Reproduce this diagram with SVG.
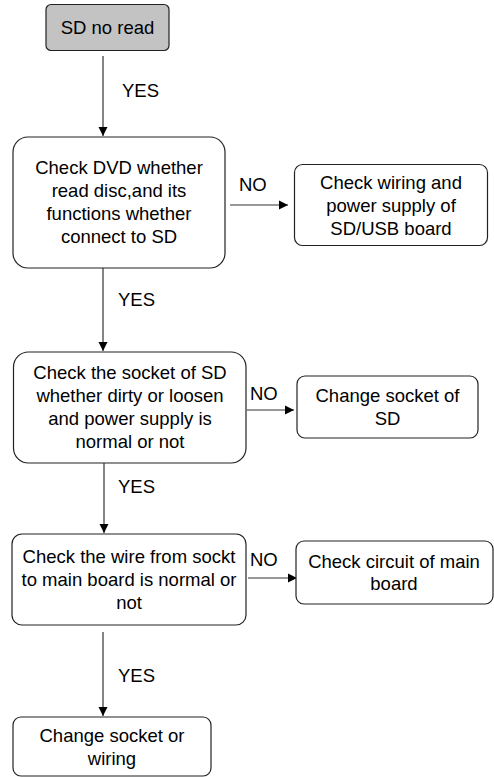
<svg xmlns="http://www.w3.org/2000/svg" width="494" height="778" viewBox="0 0 494 778">
<style>
.box{fill:#fff;stroke:#222;stroke-width:1.2}
.start{fill:#c3c3c3;stroke:#222;stroke-width:1.2}
text{font-family:"Liberation Sans",Arial,sans-serif;font-size:18.5px;fill:#000}
.c{text-anchor:middle}
.edge{stroke:#333;stroke-width:1.2;fill:none;marker-end:url(#ah)}
</style>
<defs>
<marker id="ah" markerWidth="10" markerHeight="10" refX="9" refY="5" orient="auto" markerUnits="userSpaceOnUse">
<path d="M0,0.5 L9,5 L0,9.5 Z" fill="#000"/>
</marker>
</defs>
<rect width="494" height="778" fill="#fff"/>
<g id="connectors">
<line class="edge" x1="103" y1="56" x2="103" y2="136"/>
<text x="122" y="97">YES</text>
<line class="edge" x1="230" y1="205" x2="288" y2="205"/>
<text x="239" y="191">NO</text>
<line class="edge" x1="103" y1="268" x2="103" y2="351"/>
<text x="118" y="306">YES</text>
<line class="edge" x1="247" y1="410" x2="294" y2="410"/>
<text x="250" y="400">NO</text>
<line class="edge" x1="104" y1="463" x2="104" y2="533"/>
<text x="118" y="493">YES</text>
<line class="edge" x1="248" y1="578" x2="297" y2="578"/>
<text x="250" y="566">NO</text>
<line class="edge" x1="103" y1="632" x2="103" y2="716"/>
<text x="118" y="682">YES</text>
</g>
<g id="n1">
<rect class="start" x="46" y="4.5" width="123" height="46" rx="5"/>
<text class="c" x="107.5" y="34">SD no read</text>
</g>
<g id="n2">
<rect class="box" x="13" y="137" width="212" height="131" rx="15"/>
<text class="c" x="119" y="174">Check DVD whether</text>
<text class="c" x="119" y="197">read disc,and its</text>
<text class="c" x="119" y="220">functions whether</text>
<text class="c" x="119" y="243">connect to SD</text>
</g>
<g id="n3">
<rect class="box" x="294.5" y="164.5" width="193" height="81" rx="8"/>
<text class="c" x="391" y="188.5">Check wiring and</text>
<text class="c" x="391" y="211.5">power supply of</text>
<text class="c" x="391" y="234.5">SD/USB board</text>
</g>
<g id="n4">
<rect class="box" x="13.5" y="352" width="232.5" height="111" rx="15"/>
<text class="c" x="130" y="378.5">Check the socket of SD</text>
<text class="c" x="130" y="402">whether dirty or loosen</text>
<text class="c" x="130" y="425">and power supply is</text>
<text class="c" x="130" y="448">normal or not</text>
</g>
<g id="n5">
<rect class="box" x="297" y="376" width="181" height="62" rx="8"/>
<text class="c" x="387.5" y="401.5">Change socket of</text>
<text class="c" x="387.5" y="424.5">SD</text>
</g>
<g id="n6">
<rect class="box" x="12" y="534" width="234" height="91" rx="10"/>
<text class="c" x="129" y="562.5">Check the wire from sockt</text>
<text class="c" x="129" y="585.5">to main board is normal or</text>
<text class="c" x="129" y="608.5">not</text>
</g>
<g id="n7">
<rect class="box" x="296" y="541" width="197" height="63" rx="8"/>
<text class="c" x="394" y="567.5">Check circuit of main</text>
<text class="c" x="394" y="590">board</text>
</g>
<g id="n8">
<rect class="box" x="13" y="717" width="198" height="59" rx="8"/>
<text class="c" x="112" y="741.5">Change socket or</text>
<text class="c" x="112" y="764.5">wiring</text>
</g>
</svg>
